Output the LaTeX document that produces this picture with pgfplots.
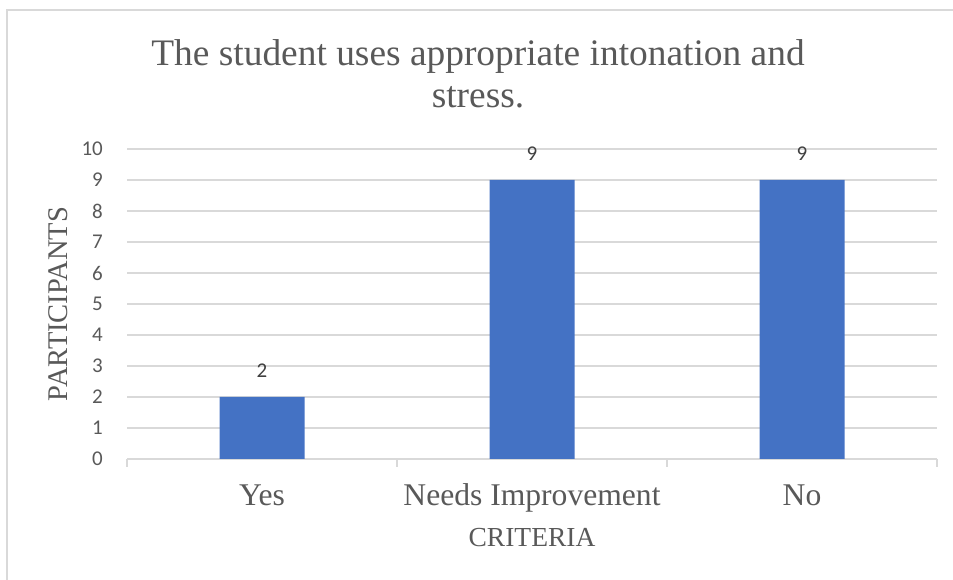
\documentclass[border=0pt]{standalone}
\usepackage{pgfplots}
\pgfplotsset{compat=1.18}
\usepackage{fontspec}
\setmainfont{Liberation Serif}
\newfontfamily\calibri{Carlito}
\definecolor{barblue}{HTML}{4472C4}
\definecolor{gridgray}{HTML}{D9D9D9}
\definecolor{textgray}{HTML}{595959}
\definecolor{labelgray}{HTML}{404040}
\begin{document}
\begin{tikzpicture}[x=1bp,y=1bp]
  \useasboundingbox (0,0) rectangle (953,580);
  % chart frame
  \draw[gridgray, line width=2bp] (7,-20) rectangle (990,570);
  % title (anchor base = baseline of the last line)
  \node[textgray, align=center, anchor=base, font=\fontsize{37.4bp}{42bp}\selectfont]
    at (478,472) {The student uses appropriate intonation and\\stress.};
  \begin{axis}[
    at={(127bp,121bp)}, anchor=south west,
    width=810bp, height=310bp, scale only axis,
    xmin=-0.5, xmax=2.5, ymin=0, ymax=10,
    ybar, bar width=85bp,
    xtick={0,1,2},
    xticklabels={Yes, Needs Improvement, No},
    minor xtick={-0.5,0.5,1.5,2.5},
    ytick={0,1,...,10},
    major tick length=0pt,
    minor tick length=8bp,
    tick align=outside,
    axis x line*=bottom,
    axis y line*=left,
    y axis line style={draw=none},
    x axis line style={gridgray, line width=1.2bp},
    every minor tick/.style={gridgray, line width=1.2bp},
    ymajorgrids,
    grid style={gridgray, line width=1.2bp},
    xticklabel style={anchor=base, yshift=-47bp, text=textgray,
      font=\fontsize{31.6bp}{36bp}\selectfont},
    yticklabel style={anchor=east, inner sep=0pt, xshift=-24bp, text=textgray,
      font=\calibri\fontsize{21bp}{24bp}\selectfont},
    /pgf/number format/assume math mode=true,
    xlabel={CRITERIA},
    xlabel style={at={(axis description cs:0.5,0)}, anchor=base, yshift=-88bp,
      text=textgray, font=\fontsize{27.5bp}{32bp}\selectfont},
    ylabel={PARTICIPANTS},
    ylabel style={at={(axis description cs:-0.0735,0.5)}, anchor=base,
      text=textgray, font=\fontsize{28.5bp}{32bp}\selectfont},
    nodes near coords,
    every node near coord/.append style={anchor=base, yshift=19bp, text=labelgray,
      font=\calibri\fontsize{21bp}{24bp}\selectfont},
  ]
    \addplot[fill=barblue, draw=none] coordinates {(0,2) (1,9) (2,9)};
  \end{axis}
\end{tikzpicture}
\end{document}
